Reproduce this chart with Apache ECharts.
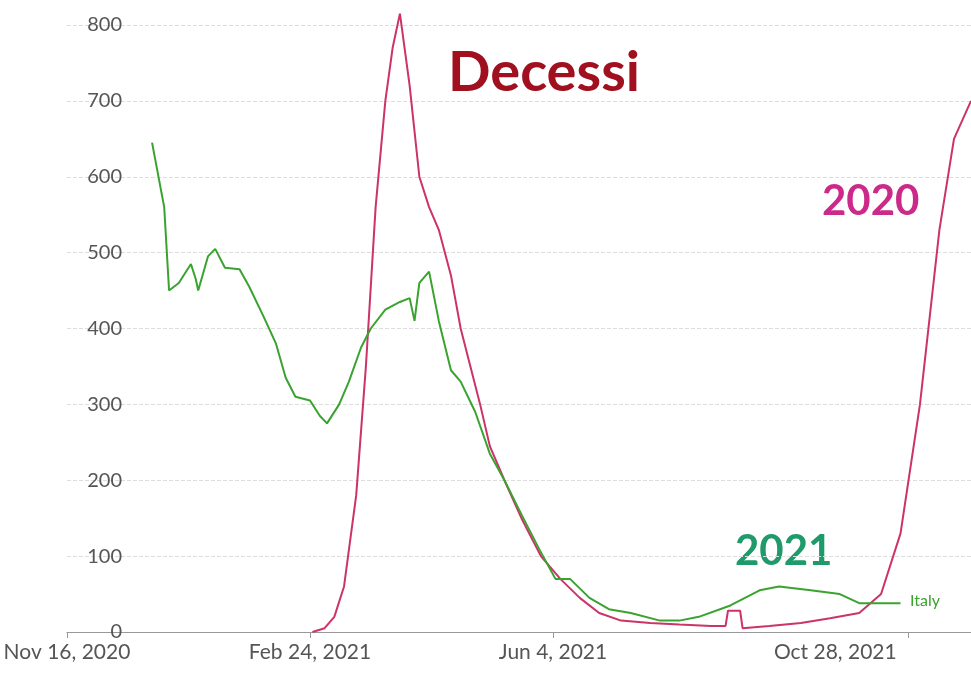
<!DOCTYPE html><html><head><meta charset="utf-8">
<script src="https://cdn.jsdelivr.net/npm/echarts@6/dist/echarts.min.js"></script>
<style>html,body{margin:0;background:#fff}#c{width:971px;height:689px}</style></head><body><div id="c"></div>
<script>
// x = days since Nov 16, 2020
const tickDays=[0,100,200,346];
const tickLabels=["Nov 16, 2020","Feb 24, 2021","Jun 4, 2021","Oct 28, 2021"];
const days2021=[35,40,42,46,51,53,54,58,61,65,71,75,81,86,90,94,100,104,107,112,116,121,125,131,137,141,143,145,149,153,158,162,168,174,180,187,195,201,207,215,223,232,244,252,260,273,285,293,306,318,326,335,343];
const deaths2021=[645,560,450,460,485,465,450,495,505,480,478,455,415,380,335,310,305,285,275,300,330,375,400,425,435,440,410,460,475,410,345,330,290,235,200,155,105,70,70,45,30,25,15,15,20,35,55,60,55,50,38,38,38];
const days2020=[101,106,110,114,119,123,127,131,134,137,141,145,149,153,158,162,166,170,174,180,187,195,203,211,219,228,240,252,265,271,272,277,278,289,302,314,326,335,343,351,359,365,372];
const deaths2020=[0,5,20,60,180,350,560,700,770,815,720,600,560,530,470,400,350,300,245,200,150,100,70,45,25,15,12,10,8,8,28,28,5,8,12,18,25,50,130,300,530,650,700];
const z=(a,b)=>a.map((v,i)=>[v,b[i]]);
const c=echarts.init(document.getElementById('c'));
c.setOption({
 animation:false,
 grid:{left:67,right:0,top:25,bottom:57},
 xAxis:{type:'value',min:0,max:372,splitLine:{show:false},
  axisLine:{lineStyle:{color:'#999'}},
  axisTick:{customValues:tickDays,length:6,lineStyle:{color:'#999'}},
  axisLabel:{customValues:tickDays,formatter:v=>{const i=tickDays.indexOf(v);return i===3?'{r|'+tickLabels[i]+'}':tickLabels[i];},
   rich:{r:{padding:[0,145,0,0],color:'#555',fontSize:21,fontFamily:'Lato'}},
   color:'#555',fontSize:21,fontFamily:'Lato',margin:10}},
 yAxis:{type:'value',min:0,max:800,interval:100,
  axisLabel:{inside:true,align:'right',margin:55,color:'#555',fontSize:20,fontFamily:'Lato'},
  splitLine:{lineStyle:{type:'dashed',color:'#ddd'}},axisLine:{show:false},axisTick:{show:false}},
 series:[
  {type:'line',data:z(days2020,deaths2020),symbol:'none',clip:false,lineStyle:{color:'#cc3366',width:2}},
  {type:'line',data:z(days2021,deaths2021),symbol:'none',lineStyle:{color:'#3aa330',width:2}}
 ],
 graphic:[
  {type:'text',left:448,top:45,style:{text:'Decessi',font:'bold 56px Lato',fill:'#a0101e'}},
  {type:'text',left:822,top:180,style:{text:'2020',font:'bold 42px Lato',fill:'#cc2a8a'}},
  {type:'text',left:735,top:530,style:{text:'2021',font:'bold 42px Lato',fill:'#1f9a6a'}},
  {type:'text',left:910,top:593,style:{text:'Italy',font:'16px Lato',fill:'#3aa330'}}
 ]
});
</script></body></html>
